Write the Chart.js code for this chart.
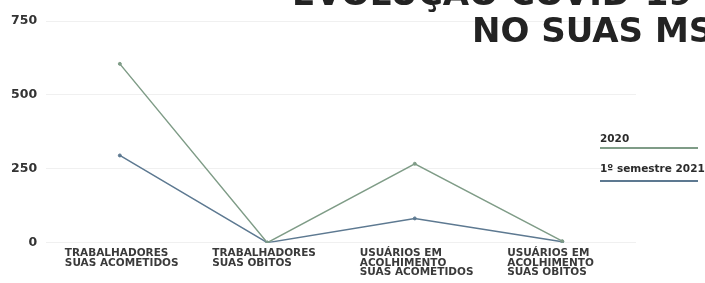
<!DOCTYPE html>
<html>
<head>
<meta charset="utf-8">
<script src="https://cdn.jsdelivr.net/npm/chart.js@4.4.0/dist/chart.umd.min.js"></script>
<style>
  html, body { margin: 0; padding: 0; background: #fff; }
  #wrap { position: relative; width: 705px; height: 283px; overflow: hidden; }
  #chart { position: absolute; left: 0; top: 0; }
  .title { position: absolute; font-family: "DejaVu Sans", sans-serif; font-weight: bold;
           font-size: 34px; line-height: 34px; color: #232323; white-space: nowrap; }
  #legend { position: absolute; left: 600px; top: 132px; width: 130px;
            font-family: "DejaVu Sans", sans-serif; font-weight: bold; font-size: 10.5px; color: #2b2b2b; white-space: nowrap; }
  #legend .item { height: 30px; }
  #legend .item + .item .bar { margin-top: 6px; }
  #legend .bar { width: 98px; height: 2px; margin-top: 3px; }
</style>
</head>
<body>
<div id="wrap">
  <canvas id="chart" width="705" height="283"></canvas>
  <div class="title" style="left:292px; top:-24px;">EVOLUÇÃO COVID-19</div>
  <div class="title" style="left:472px; top:13px;">NO SUAS MS</div>
  <div id="legend"></div>
</div>
<script>
// categories on the x axis (multi-line labels)
const categories = [
    ['TRABALHADORES', 'SUAS ACOMETIDOS'],
    ['TRABALHADORES', 'SUAS OBITOS'],
    ['USUÁRIOS EM', 'ACOLHIMENTO', 'SUAS ACOMETIDOS'],
    ['USUÁRIOS EM', 'ACOLHIMENTO', 'SUAS OBITOS']
];
const seriesNames = ['2020', '1º semestre 2021'];
const values2020 = [605, 0, 267, 5];
const values2021 = [295, 0, 82, 3];
const yTicks = [0, 250, 500, 750];

const colors = ['#7f9c87', '#5d7991'];

const config = {
    type: 'line',
    data: {
        labels: categories,
        datasets: [
            { label: seriesNames[0], data: values2020, borderColor: colors[0], backgroundColor: colors[0] },
            { label: seriesNames[1], data: values2021, borderColor: colors[1], backgroundColor: colors[1] }
        ]
    },
    options: {
        responsive: false,
        animation: false,
        layout: { padding: { left: 2, right: 69, top: 21, bottom: 0 } },
        elements: {
            line: { borderWidth: 1.5, tension: 0 },
            point: { radius: 1.5, hoverRadius: 2 }
        },
        plugins: { legend: { display: false }, tooltip: { enabled: false } },
        scales: {
            x: {
                offset: true,
                grid: { display: false, drawTicks: false },
                border: { display: false },
                ticks: {
                    align: 'start',
                    labelOffset: -55,
                    padding: 6,
                    autoSkip: false,
                    maxRotation: 0,
                    color: '#3a3a3a',
                    font: { family: 'DejaVu Sans', weight: 'bold', size: 10.5, lineHeight: 0.9 }
                }
            },
            y: {
                min: 0,
                max: 750,
                afterBuildTicks: axis => { axis.ticks = yTicks.map(v => ({ value: v })); },
                grid: { color: 'rgba(0,0,0,0.06)', drawTicks: false },
                border: { display: false },
                ticks: {
                    padding: 9,
                    color: '#333',
                    font: { family: 'DejaVu Sans', weight: 'bold', size: 12.5 }
                }
            }
        }
    }
};

const chart = new Chart(document.getElementById('chart'), config);

// legend: name above a coloured underline
const legend = document.getElementById('legend');
chart.data.datasets.forEach(ds => {
    const item = document.createElement('div');
    item.className = 'item';
    item.innerHTML = '<div>' + ds.label + '</div><div class="bar" style="background:' + ds.borderColor + '"></div>';
    legend.appendChild(item);
});
</script>
</body>
</html>
